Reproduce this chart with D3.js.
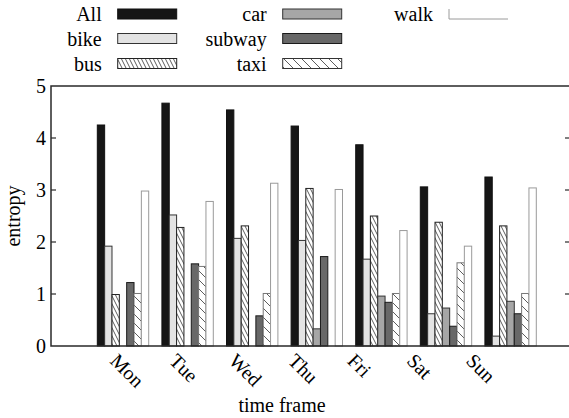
<!DOCTYPE html>
<html>
<head>
<meta charset="utf-8">
<script src="https://cdn.jsdelivr.net/npm/d3@7"></script>
<style>
  body { margin: 0; background: #fff; }
</style>
</head>
<body>
<div id="chart"></div>
<script>
var days = ["Mon", "Tue", "Wed", "Thu", "Fri", "Sat", "Sun"];
var modes = ["All", "bike", "bus", "car", "subway", "taxi", "walk"];

// entropy per mode, one value per day (Mon..Sun)
var allVals    = [4.25, 4.67, 4.54, 4.23, 3.87, 3.06, 3.25];
var bikeVals   = [1.92, 2.52, 2.07, 2.03, 1.67, 0.62, 0.19];
var busVals    = [0.99, 2.28, 2.31, 3.03, 2.50, 2.38, 2.31];
var carVals    = [0, 0, 0, 0.33, 0.96, 0.73, 0.86];
var subwayVals = [1.22, 1.58, 0.58, 1.72, 0.84, 0.38, 0.62];
var taxiVals   = [1.01, 1.53, 1.01, 0, 1.01, 1.60, 1.01];
var walkVals   = [2.98, 2.78, 3.13, 3.01, 2.22, 1.92, 3.04];
var yTicks = [0, 1, 2, 3, 4, 5];

var series = [allVals, bikeVals, busVals, carVals, subwayVals, taxiVals, walkVals];

var styles = {
    All:    { fill: "#161616", stroke: "#111" },
    bike:   { fill: "#e3e3e3", stroke: "#333" },
    bus:    { fill: "url(#hatchDense)", stroke: "#222" },
    car:    { fill: "#a6a6a6", stroke: "#333" },
    subway: { fill: "#686868", stroke: "#1a1a1a" },
    taxi:   { fill: "url(#hatchSparse)", stroke: "#777" },
    walk:   { fill: "#fff", stroke: "#9a9a9a" }
};

var width = 569, height = 418;
var margin = { left: 51, right: 570, top: 86, bottom: 346 };
var serif = "'Liberation Serif', 'DejaVu Serif', serif";

var svg = d3.select("#chart")
  .append("svg")
    .attr("width", width)
    .attr("height", height)
    .attr("font-family", serif)
    .style("font-family", serif);

var defs = svg.append("defs");
var p1 = defs.append("pattern")
    .attr("id", "hatchDense")
    .attr("patternUnits", "userSpaceOnUse")
    .attr("width", 4).attr("height", 8);
p1.append("rect").attr("width", 4).attr("height", 8).attr("fill", "#fff");
p1.append("path").attr("d", "M-2,-4 L6,12 M-6,-4 L2,12 M2,-4 L10,12")
    .attr("stroke", "#333").attr("stroke-width", 0.8);

var p2 = defs.append("pattern")
    .attr("id", "hatchSparse")
    .attr("patternUnits", "userSpaceOnUse")
    .attr("width", 9).attr("height", 9);
p2.append("rect").attr("width", 9).attr("height", 9).attr("fill", "#fff");
p2.append("path").attr("d", "M0,0 L9,9 M-4.5,4.5 L4.5,13.5 M4.5,-4.5 L13.5,4.5")
    .attr("stroke", "#333").attr("stroke-width", 0.8);

var x = d3.scaleLinear()
    .domain([-1.1146, 6.9195])
    .range([margin.left, margin.right]);

var y = d3.scaleLinear()
    .domain([0, 5])
    .range([margin.bottom, margin.top]);

var barW = 1 / 8.8;

// bars
modes.forEach(function(m, j) {
    svg.append("g")
        .selectAll("rect")
        .data(series[j])
        .enter()
        .append("rect")
            .attr("x", function(d, i) { return x(i + (j - 3.5) * barW); })
            .attr("y", function(d) { return y(d); })
            .attr("width", x(barW) - x(0))
            .attr("height", function(d) { return y(0) - y(d); })
            .attr("fill", styles[m].fill)
            .attr("stroke", styles[m].stroke)
            .attr("stroke-width", 1);
});

// frame
var axisColor = "#2a2a2a";
svg.append("path")
    .attr("d", "M" + margin.right + "," + y(5) + " H" + margin.left + " V" + y(0) + " H" + margin.right)
    .attr("fill", "none")
    .attr("stroke", axisColor)
    .attr("stroke-width", 1.5);

svg.append("g")
    .selectAll("line")
    .data(yTicks.slice(1, 5))
    .enter()
    .append("line")
        .attr("x1", margin.left).attr("x2", margin.left + 5)
        .attr("y1", function(d) { return y(d); })
        .attr("y2", function(d) { return y(d); })
        .attr("stroke", axisColor).attr("stroke-width", 1.2);

svg.append("g")
    .selectAll("line")
    .data(yTicks.slice(1, 5))
    .enter()
    .append("line")
        .attr("x1", margin.right - 5).attr("x2", margin.right)
        .attr("y1", function(d) { return y(d); })
        .attr("y2", function(d) { return y(d); })
        .attr("stroke", axisColor).attr("stroke-width", 1.2);

svg.append("g")
    .selectAll("text")
    .data(yTicks)
    .enter()
    .append("text")
        .attr("x", margin.left - 5)
        .attr("y", function(d) { return y(d) + 6.5; })
        .attr("text-anchor", "end")
        .style("font-size", "20px")
        .text(function(d) { return d; });

// x tick labels
var xl = d3.scalePoint()
    .domain(days)
    .range([109, 465]);

svg.append("g")
    .selectAll("text")
    .data(days)
    .enter()
    .append("text")
        .attr("transform", function(d) { return "translate(" + xl(d) + ",362) rotate(45)"; })
        .attr("text-anchor", "start")
        .style("font-size", "20px")
        .text(function(d) { return d; });

svg.append("text")
    .attr("x", 282)
    .attr("y", 412)
    .attr("text-anchor", "middle")
    .style("font-size", "20px")
    .text("time frame");

svg.append("text")
    .attr("transform", "translate(20,216) rotate(-90)")
    .attr("text-anchor", "middle")
    .style("font-size", "20px")
    .text("entropy");

// legend
var legCols = [101.7, 266.7, 433];
var legRows = [14, 38.5, 63.5];
var legend = svg.append("g");
modes.forEach(function(m, k) {
    var c = Math.floor(k / 3), r = k % 3;
    var lx = legCols[c], ly = legRows[r];
    legend.append("text")
        .attr("x", lx)
        .attr("y", ly + 7)
        .attr("text-anchor", "end")
        .style("font-size", "20px")
        .text(m);
    if (m === "walk") {
        legend.append("path")
            .attr("d", "M" + (lx + 16) + "," + (ly - 5) + " V" + (ly + 5) + " H" + (lx + 75))
            .attr("fill", "none")
            .attr("stroke", "#9a9a9a")
            .attr("stroke-width", 1);
    } else {
        legend.append("rect")
            .attr("x", lx + 16)
            .attr("y", ly - 5)
            .attr("width", 59)
            .attr("height", 10)
            .attr("fill", styles[m].fill)
            .attr("stroke", m === "taxi" ? "#333" : styles[m].stroke)
            .attr("stroke-width", 1);
    }
});
</script>
</body>
</html>
